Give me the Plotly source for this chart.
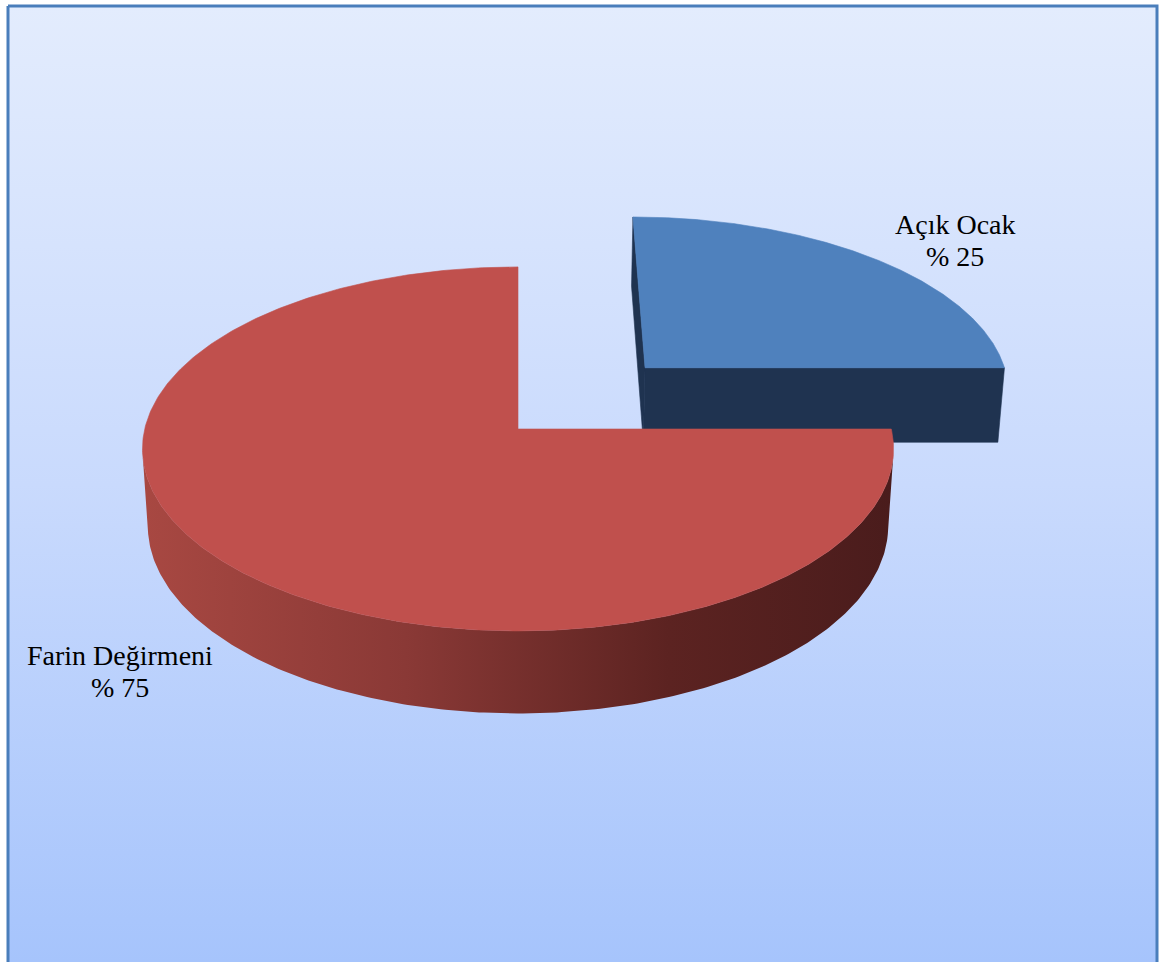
import numpy as np
import plotly.graph_objects as go

# ---- data ----
labels = ["Açık Ocak", "Farin Değirmeni"]
values = [25, 75]
explode = [0.5, 0.0]          # radial offset as fraction of radius

# ---- styles ----
top_colors = ["#4f81bd", "#c0504d"]
side_colors = ["#1f3350", "#4a1c1c"]
wall_scales = [
    [[0, "#2a4468"], [1, "#1a2b44"]],
    [[0, "#a84842"], [0.35, "#8a3936"], [0.7, "#5c2321"], [1, "#4a1c1c"]],
]
label_pos = [(955, 224, 256), (120, 655, 687)]   # x, line1 y, line2 y (pixels)

# ---- 3D perspective projection (screen pixels) ----
W, Hpx = 1164, 962
CX, CY = 518, 429
F = 2990.0
D = 8.01
PHI = np.radians(28.8)
S, C = np.sin(PHI), np.cos(PHI)
THICK = 0.237
CAM = np.array([0.0, D * S, -D * C])


def proj(x, y, z):
    x, y, z = np.asarray(x, float), np.asarray(y, float), np.asarray(z, float)
    up = z * S + y * C
    depth = D + z * C - y * S
    return CX + F * x / depth, CY - F * up / depth


fig = go.Figure()

# background panel with vertical gradient and frame
fig.add_trace(go.Scatter(
    x=[8, 1157, 1157, 8, 8], y=[6, 6, 975, 975, 6], mode="lines",
    fill="toself", line=dict(color="#4a7ebb", width=3),
    fillgradient=dict(type="vertical", start=6, stop=962,
                      colorscale=[[0, "#e3ecfd"], [0.5, "#c9dafd"], [1, "#a6c4fc"]]),
    hoverinfo="skip", showlegend=False))


def poly(xs, ys, color=None, grad=None, gstart=None, gstop=None):
    xs = list(xs) + [xs[0]]
    ys = list(ys) + [ys[0]]
    kw = dict(x=xs, y=ys, mode="lines", fill="toself",
              hoverinfo="skip", showlegend=False)
    if grad is not None:
        kw["fillgradient"] = dict(type="horizontal", colorscale=grad,
                                  start=gstart, stop=gstop)
        kw["line"] = dict(width=0, color="rgba(0,0,0,0)")
    else:
        kw["fillcolor"] = color
        kw["line"] = dict(width=0.6, color=color)
    fig.add_trace(go.Scatter(**kw))


total = sum(values)
slices = []
cum = 0
for i, v in enumerate(values):
    a0 = 90 - 360 * cum / total
    a1 = 90 - 360 * (cum + v) / total
    mid = np.radians((a0 + a1) / 2)
    ox, oz = explode[i] * np.cos(mid), explode[i] * np.sin(mid)
    depth_key = D + oz * C
    slices.append((depth_key, i, a0, a1, ox, oz))
    cum += v

# painter's order: farthest first
slices.sort(key=lambda t: -t[0])

for _, i, a0, a1, ox, oz in slices:
    th = np.radians(np.linspace(a0, a1, 400))
    rx, rz = ox + np.cos(th), oz + np.sin(th)

    # radial cut faces
    vt = np.array([ox, 0.0, oz])
    for a, sgn in ((a0, +1), (a1, -1)):
        ar = np.radians(a + sgn * 90)
        n = np.array([np.cos(ar), 0.0, np.sin(ar)])
        if np.dot(n, CAM - vt) > 1e-6:
            ex, ez = ox + np.cos(np.radians(a)), oz + np.sin(np.radians(a))
            qx, qy = proj([ox, ex, ex, ox], [0, 0, -THICK, -THICK], [oz, ez, ez, oz])
            poly(qx, qy, color=side_colors[i])

    # outer wall (visible part)
    vis = []
    for k, t in enumerate(th):
        n = np.array([np.cos(t), 0.0, np.sin(t)])
        p = np.array([rx[k], 0.0, rz[k]])
        vis.append(np.dot(n, CAM - p) > 0)
    vis = np.array(vis)
    if vis.any():
        idx = np.where(vis)[0]
        seg = slice(idx[0], idx[-1] + 1)
        tx, ty = proj(rx[seg], np.zeros_like(rx[seg]), rz[seg])
        bx, by = proj(rx[seg], -THICK * np.ones_like(rx[seg]), rz[seg])
        wx = np.concatenate([tx, bx[::-1]])
        wy = np.concatenate([ty, by[::-1]])
        poly(wx, wy, grad=wall_scales[i], gstart=float(wx.min()), gstop=float(wx.max()))

    # top face
    px, py = proj(np.concatenate([[ox], rx]), np.zeros(len(rx) + 1),
                  np.concatenate([[oz], rz]))
    poly(px, py, color=top_colors[i])

# labels
annotations = []
for i, lab in enumerate(labels):
    lx, ly1, ly2 = label_pos[i]
    pct = f"% {round(100 * values[i] / total)}"
    for txt, yy in ((lab, ly1), (pct, ly2)):
        annotations.append(dict(x=lx, y=yy, xref="x", yref="y", text=txt,
                                showarrow=False, xanchor="center", yanchor="middle",
                                font=dict(family="Liberation Serif", size=28, color="#000000")))

fig.update_layout(
    width=W, height=Hpx, margin=dict(l=0, r=0, t=0, b=0),
    paper_bgcolor="#ffffff", plot_bgcolor="#ffffff",
    xaxis=dict(range=[0, W], visible=False, fixedrange=True),
    yaxis=dict(range=[Hpx, 0], visible=False, fixedrange=True),
    annotations=annotations, showlegend=False,
)

fig.write_html("out.html")
